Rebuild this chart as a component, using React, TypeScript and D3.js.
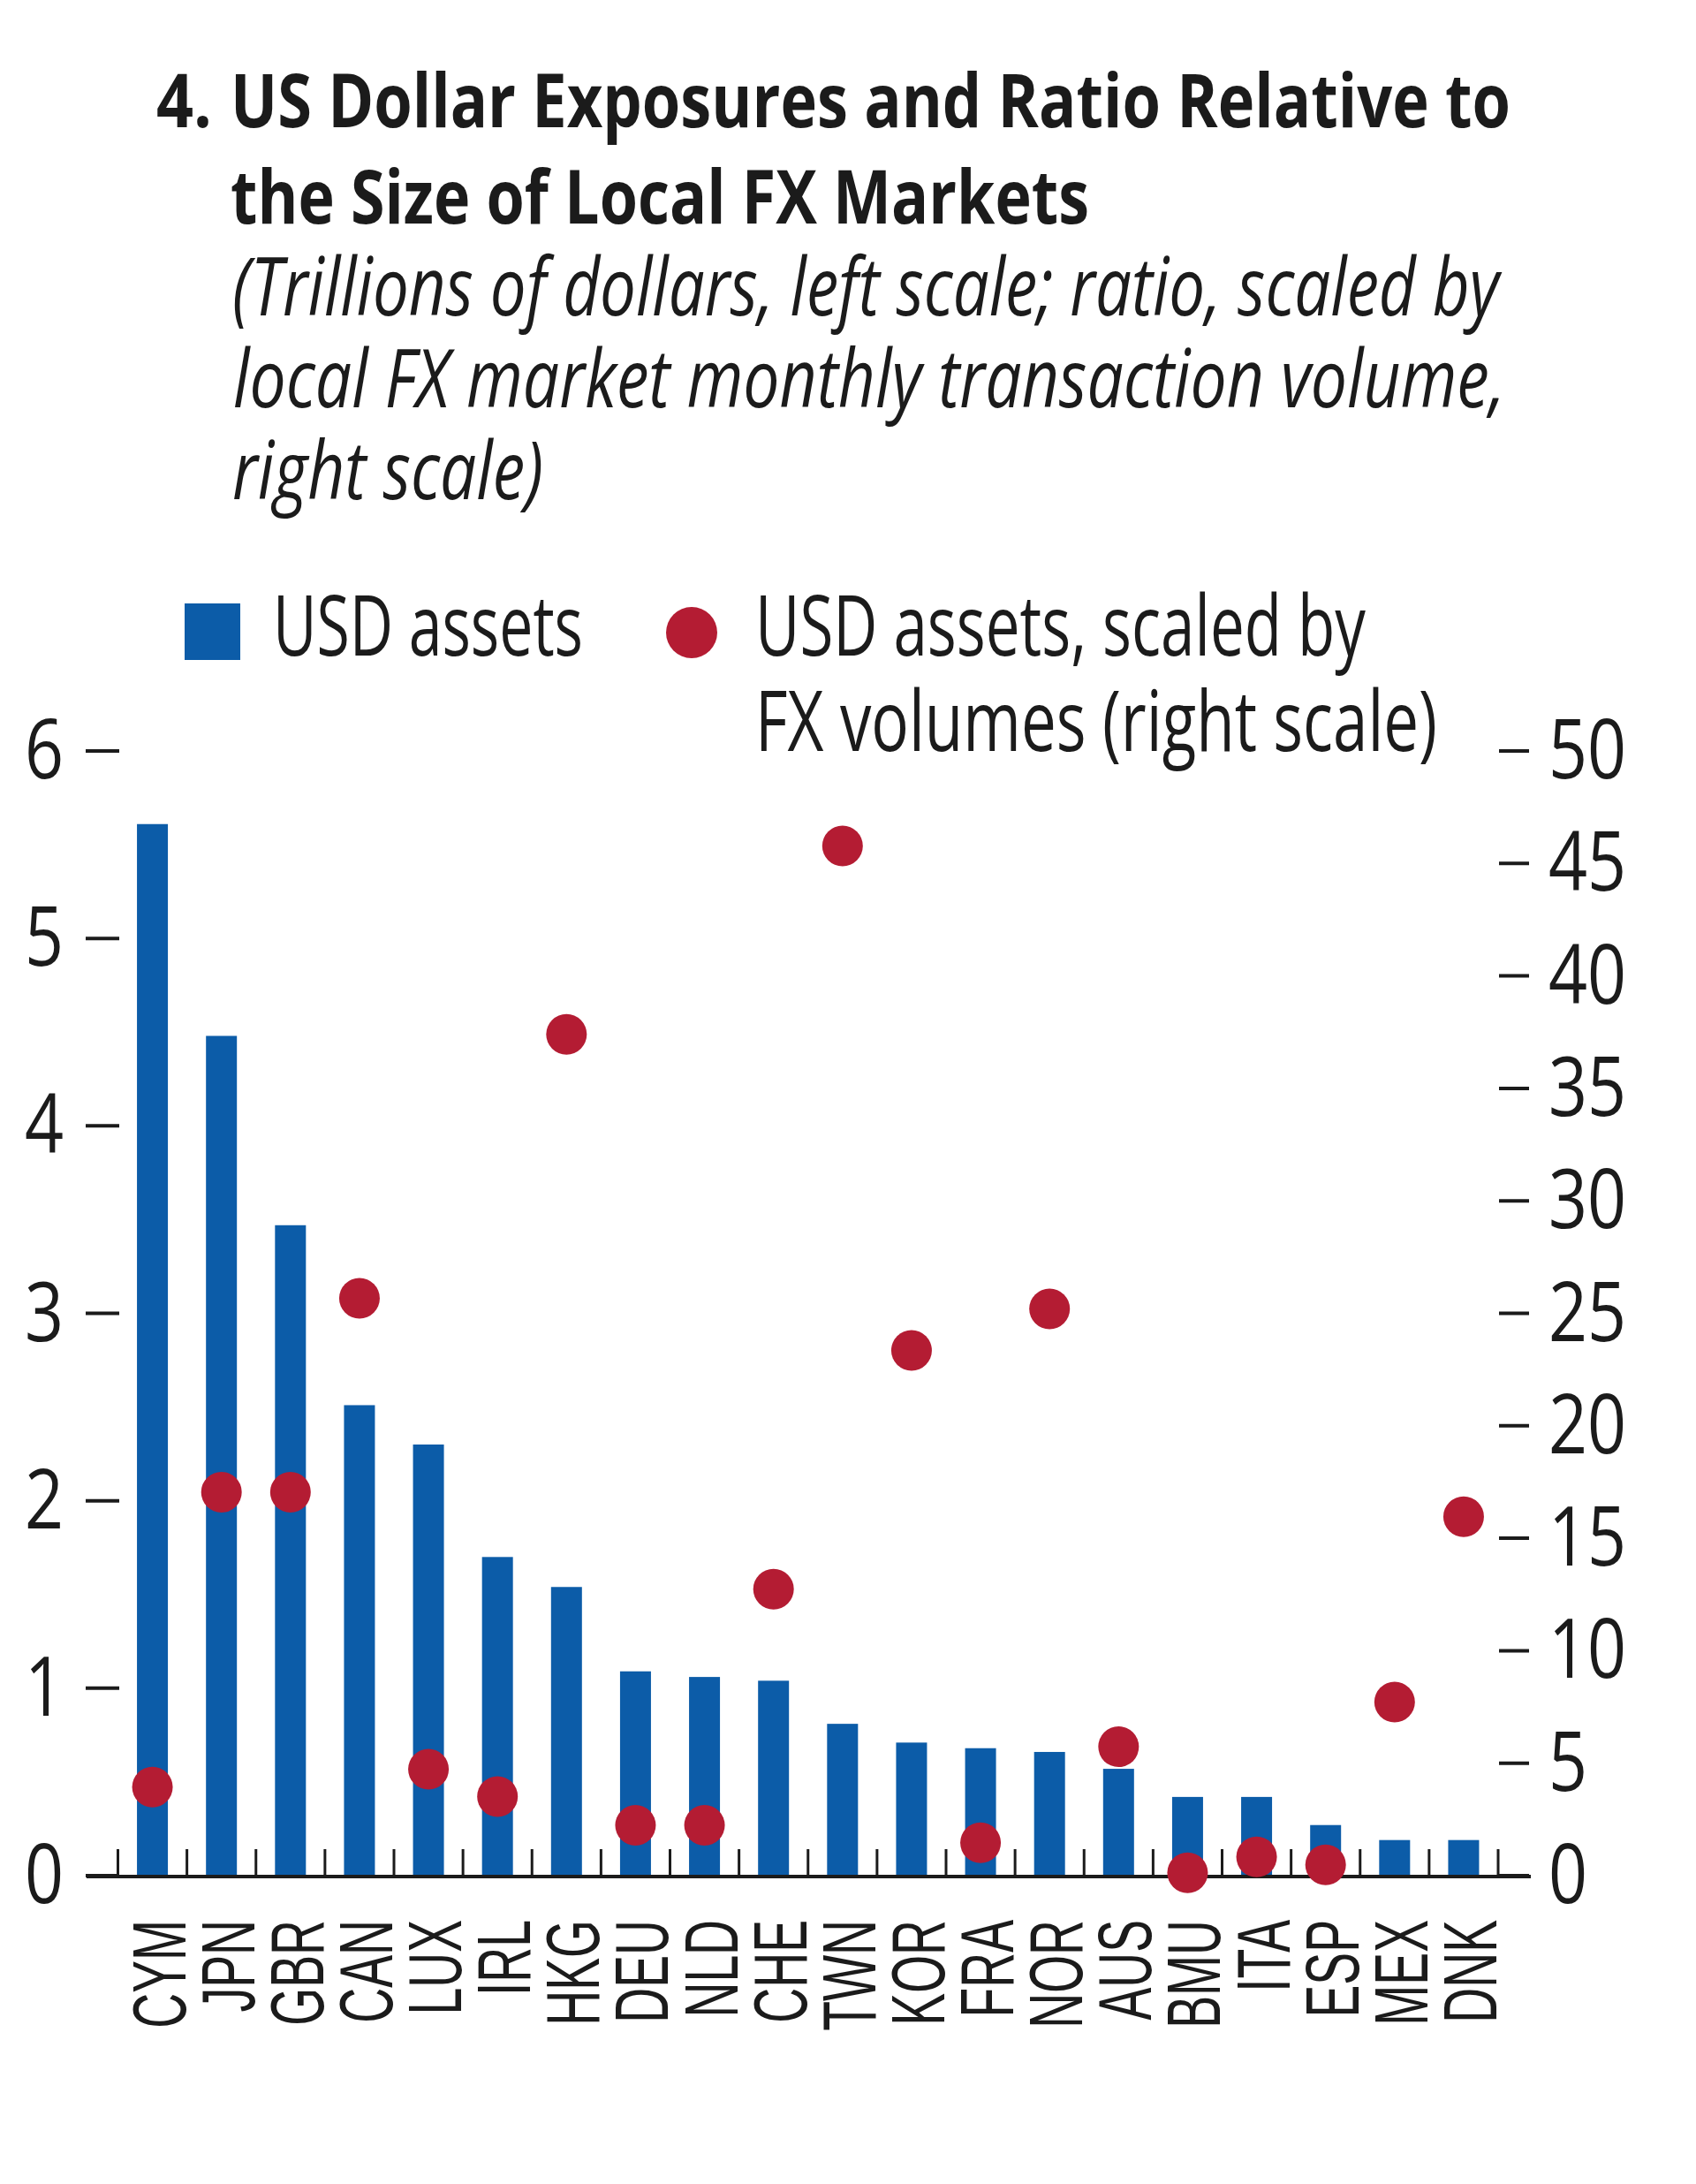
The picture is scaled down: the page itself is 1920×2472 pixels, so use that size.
import React from "react";
import * as d3 from "d3";

const categories = ["CYM","JPN","GBR","CAN","LUX","IRL","HKG","DEU","NLD","CHE","TWN","KOR","FRA","NOR","AUS","BMU","ITA","ESP","MEX","DNK"];
const usdAssets = [5.61,4.48,3.47,2.51,2.30,1.70,1.54,1.09,1.06,1.04,0.81,0.71,0.68,0.66,0.57,0.42,0.42,0.27,0.19,0.19];
const scaledByFx = [3.94,17.05,17.05,25.67,4.73,3.52,37.4,2.24,2.24,12.74,45.78,23.35,1.46,25.2,5.73,0.13,0.83,0.48,7.72,15.96];
const leftTicks = [0,1,2,3,4,5,6];
const rightTicks = [0,5,10,15,20,25,30,35,40,45,50];

const titleLines = ["US Dollar Exposures and Ratio Relative to", "the Size of Local FX Markets"];
const subtitleLines = ["(Trillions of dollars, left scale; ratio, scaled by", "local FX market monthly transaction volume,", "right scale)"];
const legendBar = "USD assets";
const legendDotLines = ["USD assets, scaled by", "FX volumes (right scale)"];

const BLUE = "#0c5ca8";
const RED = "#b41c33";
const INK = "#1b1b1b";
const MAIN_FONT = "'Open Sans', 'Noto Sans', sans-serif";
const LABEL_FONT = "'Liberation Sans', Arial, sans-serif";

export default function App() {
  const W = 1920, H = 2472;
  const x = d3.scaleBand<string>().domain(categories).range([133.5, 1696]).padding(0);
  const step = x.step();
  const barW = 35;
  const yL = d3.scaleLinear().domain([0, 6]).range([2123, 850]);
  const yR = d3.scaleLinear().domain([0, 50]).range([2123, 850]);
  const tickEdges = d3.range(categories.length + 1).map(i => x.range()[0] + i * step);

  const condensed = (tx: number, ty: number, sx: number) => `translate(${tx},${ty}) scale(${sx},1)`;

  return (
    <div style={{ position: "absolute", left: 0, top: 0, width: W, height: H, background: "#fff" }}>
      <svg width={W} height={H} viewBox={`0 0 ${W} ${H}`} style={{ display: "block" }}>
        <rect x={0} y={0} width={W} height={H} fill="#fff" />
        {/* Title */}
        <text x={177} y={144} fontFamily={MAIN_FONT} fontWeight={700} fontSize={85} fill={INK}
          textLength={63} lengthAdjust="spacingAndGlyphs">4.</text>
        <text x={261} y={144} fontFamily={MAIN_FONT} fontWeight={700} fontSize={85} fill={INK}
          textLength={1449} lengthAdjust="spacingAndGlyphs">{titleLines[0]}</text>
        <text x={261} y={253} fontFamily={MAIN_FONT} fontWeight={700} fontSize={85} fill={INK}
          textLength={972} lengthAdjust="spacingAndGlyphs">{titleLines[1]}</text>
        {/* Subtitle */}
        <text x={263} y={357} fontFamily={MAIN_FONT} fontStyle="italic" fontSize={92} fill={INK}
          textLength={1434} lengthAdjust="spacingAndGlyphs">{subtitleLines[0]}</text>
        <text x={264} y={461} fontFamily={MAIN_FONT} fontStyle="italic" fontSize={92} fill={INK}
          textLength={1440} lengthAdjust="spacingAndGlyphs">{subtitleLines[1]}</text>
        <text x={263} y={565} fontFamily={MAIN_FONT} fontStyle="italic" fontSize={92} fill={INK}
          textLength={352} lengthAdjust="spacingAndGlyphs">{subtitleLines[2]}</text>

        {/* Legend */}
        <rect x={209} y={683} width={63} height={64} fill={BLUE} />
        <text x={309} y={742} fontFamily={MAIN_FONT} fontSize={96} fill={INK}
          textLength={351} lengthAdjust="spacingAndGlyphs">{legendBar}</text>
        <circle cx={783} cy={716} r={29} fill={RED} />
        <text x={855} y={742} fontFamily={MAIN_FONT} fontSize={96} fill={INK}
          textLength={691} lengthAdjust="spacingAndGlyphs">{legendDotLines[0]}</text>
        <text x={855} y={850} fontFamily={MAIN_FONT} fontSize={96} fill={INK}
          textLength={772} lengthAdjust="spacingAndGlyphs">{legendDotLines[1]}</text>

        {/* Left axis */}
        {leftTicks.map(t => (
          <g key={"l" + t}>
            <line x1={97} x2={135} y1={yL(t)} y2={yL(t)} stroke={INK} strokeWidth={4} />
            <text transform={condensed(72, yL(t) + 31, 0.82)} textAnchor="end" fontFamily={MAIN_FONT}
              fontSize={94} fill={INK}>{t}</text>
          </g>
        ))}
        {/* Right axis */}
        {rightTicks.map(t => (
          <g key={"r" + t}>
            <line x1={1697} x2={1731} y1={yR(t)} y2={yR(t)} stroke={INK} strokeWidth={4} />
            <text transform={condensed(1753, yR(t) + 31, 0.82)} textAnchor="start" fontFamily={MAIN_FONT}
              fontSize={94} fill={INK}>{t}</text>
          </g>
        ))}

        {/* Bars */}
        {categories.map((c, i) => (
          <rect key={"b" + c} x={(x(c) as number) + step / 2 - barW / 2} y={yL(usdAssets[i])}
            width={barW} height={yL(0) - yL(usdAssets[i])} fill={BLUE} />
        ))}

        {/* X axis */}
        <line x1={98} x2={1733} y1={yL(0) + 1} y2={yL(0) + 1} stroke={INK} strokeWidth={4} />
        {tickEdges.map((e, i) => (
          <line key={"t" + i} x1={e} x2={e} y1={yL(0) - 30} y2={yL(0)} stroke={INK} strokeWidth={3} />
        ))}

        {/* Dots */}
        {categories.map((c, i) => (
          <circle key={"d" + c} cx={(x(c) as number) + step / 2} cy={yR(scaledByFx[i])} r={23} fill={RED} />
        ))}

        {/* Category labels */}
        {categories.map(c => (
          <text key={"c" + c}
            transform={`translate(${(x(c) as number) + step / 2 + 37},2173) rotate(-90) scale(0.65,1)`}
            textAnchor="end" fontFamily={LABEL_FONT} fontSize={85} fill={INK}>{c}</text>
        ))}
      </svg>
    </div>
  );
}
